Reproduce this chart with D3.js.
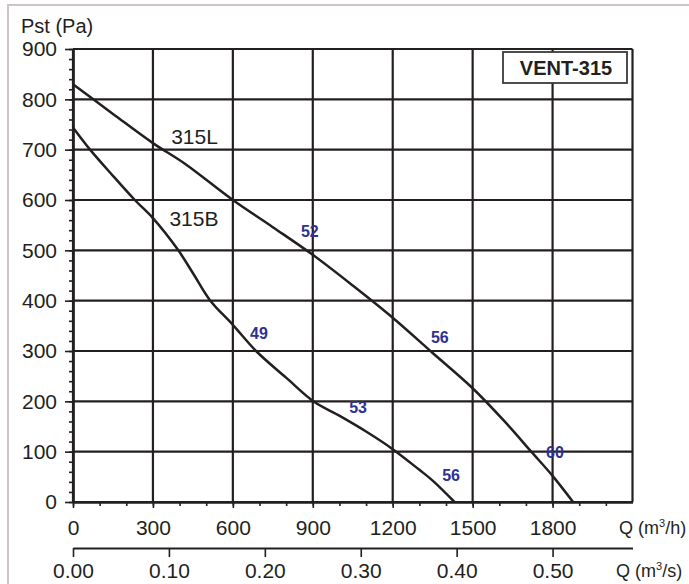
<!DOCTYPE html>
<html>
<head>
<meta charset="utf-8">
<script src="https://cdn.jsdelivr.net/npm/d3@7"></script>
<style>
  body { margin: 0; background: #fff; }
  svg { display: block; font-family: "Liberation Sans", Arial, sans-serif; }
</style>
</head>
<body>
<svg id="chart" width="689" height="584"></svg>
<script>
// values
const flowTicks = [0, 300, 600, 900, 1200, 1500, 1800];
const flowMax = 2100;
const pressureTicks = [0, 100, 200, 300, 400, 500, 600, 700, 800, 900];
const flowSecTicks = [0, 0.1, 0.2, 0.3, 0.4, 0.5];

const curve315L = [
  [0, 830], [150, 771], [300, 713], [420, 672], [600, 600], [750, 546],
  [900, 491], [1050, 430], [1200, 366], [1350, 296], [1500, 226],
  [1620, 160], [1720, 100], [1800, 52], [1877, 0]
];
const curve315B = [
  [0, 744], [64, 700], [150, 648], [232, 600], [300, 564], [394, 501],
  [451, 454], [514, 401], [600, 352], [689, 299], [800, 247], [905, 199],
  [1001, 171], [1100, 140], [1200, 105], [1300, 64], [1351, 42], [1432, 0]
];
const curveNames = [
  { text: "315L", q: 456, p: 727 },
  { text: "315B", q: 454, p: 564 }
];
const noiseLabels = [
  { text: "52", q: 889, p: 538 },
  { text: "49", q: 698, p: 336 },
  { text: "53", q: 1070, p: 189 },
  { text: "56", q: 1419, p: 54 },
  { text: "56", q: 1377, p: 328 },
  { text: "60", q: 1809, p: 98 }
];

const ink = "#231f20";
const svg = d3.select("#chart");

const x = d3.scaleLinear().domain([0, flowMax]).range([73, 632.5]);
const y = d3.scaleLinear().domain([0, 900]).range([502, 49]);
const xs = d3.scaleLinear().domain([0, flowMax / 3600]).range([73, 632.5]);

// outer frame
svg.append("path")
  .attr("d", "M8,600 L8,5 L700,5")
  .attr("fill", "none")
  .attr("stroke", "#cdc5ca")
  .attr("stroke-width", 2);

// grid
const grid = svg.append("g").attr("stroke", ink).attr("stroke-width", 2.2);
grid.selectAll(".v").data(flowTicks.concat([flowMax])).join("line")
  .attr("x1", (d) => x(d)).attr("x2", (d) => x(d))
  .attr("y1", y(900)).attr("y2", y(0));
grid.selectAll(".h").data(pressureTicks).join("line")
  .attr("x1", x(0)).attr("x2", x(flowMax))
  .attr("y1", (d) => y(d)).attr("y2", (d) => y(d));

const styleAxis = (g, size) => {
  g.attr("font-family", null).attr("font-size", size);
  g.select(".domain").attr("stroke", ink).attr("stroke-width", 2.2);
  g.selectAll("line").attr("stroke", ink).attr("stroke-width", 1.6);
  g.selectAll("text").attr("fill", ink);
  return g;
};

// y axis: minor then major
svg.append("g").attr("transform", `translate(${x(0)},0)`)
  .call(d3.axisLeft(y).tickValues(d3.range(0, 901, 20)).tickSize(4).tickSizeOuter(0).tickFormat(""))
  .call((g) => styleAxis(g, 21));
svg.append("g").attr("transform", `translate(${x(0)},0)`)
  .call(d3.axisLeft(y).tickValues(pressureTicks).tickSize(8).tickSizeOuter(0).tickPadding(8))
  .call((g) => styleAxis(g, 21));

// x axis m3/h
svg.append("g").attr("transform", `translate(0,${y(0)})`)
  .call(d3.axisBottom(x).tickValues(d3.range(0, 2001, 100)).tickSize(4).tickSizeOuter(0).tickFormat(""))
  .call((g) => styleAxis(g, 21));
svg.append("g").attr("transform", `translate(0,${y(0)})`)
  .call(d3.axisBottom(x).tickValues(flowTicks).tickSize(6).tickSizeOuter(0).tickPadding(12).tickFormat(d3.format("d")))
  .call((g) => styleAxis(g, 21));

// x axis m3/s
svg.append("g").attr("transform", "translate(0,548)")
  .call(d3.axisBottom(xs).tickValues(flowSecTicks).tickSize(9).tickSizeOuter(0).tickPadding(6).tickFormat(d3.format(".2f")))
  .call((g) => styleAxis(g, 21));

// axis titles with superscript 3
const unitTitle = (tx, ty, unit) => {
  const t = svg.append("text").attr("x", tx).attr("y", ty)
    .attr("font-size", 18).attr("fill", ink);
  t.append("tspan").text("Q (m");
  t.append("tspan").text("3").attr("font-size", 11).attr("dy", -7);
  t.append("tspan").text(unit).attr("dy", 7);
  return t;
};
svg.append("text").attr("x", 21).attr("y", 33)
  .attr("font-size", 20).attr("fill", ink).text("Pst (Pa)");
unitTitle(619, 534, "/h)");
unitTitle(616, 577, "/s)");

// curves
const line = d3.line()
  .x((d) => x(d[0]))
  .y((d) => y(d[1]))
  .curve(d3.curveCatmullRom.alpha(0.5));
svg.selectAll(".curve").data([curve315L, curve315B]).join("path")
  .attr("fill", "none")
  .attr("stroke", ink)
  .attr("stroke-width", 2.5)
  .attr("d", line);

// curve names
svg.selectAll(".cname").data(curveNames).join("text")
  .attr("x", (d) => x(d.q)).attr("y", (d) => y(d.p))
  .attr("text-anchor", "middle").attr("dy", "0.36em")
  .attr("font-size", 21).attr("fill", ink)
  .text((d) => d.text);

// noise labels
svg.selectAll(".noise").data(noiseLabels).join("text")
  .attr("x", (d) => x(d.q)).attr("y", (d) => y(d.p))
  .attr("text-anchor", "middle").attr("dy", "0.36em")
  .attr("font-size", 16).attr("font-weight", "bold").attr("fill", "#2e3192")
  .text((d) => d.text);

// model box
const box = svg.append("g");
box.append("rect")
  .attr("x", 503).attr("y", 52).attr("width", 124).attr("height", 31)
  .attr("fill", "#fff").attr("stroke", "#3a3a3a").attr("stroke-width", 1.8);
box.append("text")
  .attr("x", 566).attr("y", 68).attr("dy", "0.36em")
  .attr("text-anchor", "middle")
  .attr("font-size", 20).attr("font-weight", "bold").attr("fill", ink)
  .text("VENT-315");
</script>
</body>
</html>
